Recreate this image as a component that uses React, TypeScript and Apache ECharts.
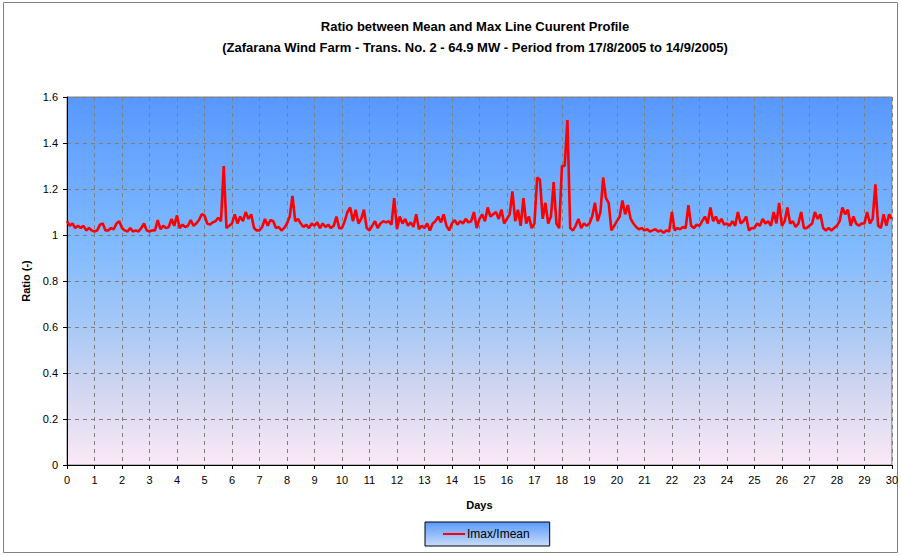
import React, { useEffect, useRef } from "react";
import * as echarts from "echarts";

// Imax/Imean ratio, sampled every 0.1 day (day 0.0 .. 30.0)
const STEP_DAYS = 0.1;
const ratioDays0to9: number[] = [
  1.06, 1.04, 1.05, 1.03, 1.04, 1.03, 1.04, 1.02, 1.03, 1.02,
  1.015, 1.02, 1.045, 1.05, 1.02, 1.02, 1.03, 1.025, 1.05, 1.06,
  1.03, 1.02, 1.015, 1.03, 1.015, 1.02, 1.015, 1.03, 1.05, 1.02,
  1.015, 1.02, 1.02, 1.065, 1.025, 1.04, 1.03, 1.035, 1.07, 1.04,
  1.085, 1.03, 1.045, 1.035, 1.04, 1.065, 1.04, 1.05, 1.065, 1.09,
  1.085, 1.05, 1.045, 1.055, 1.06, 1.075, 1.06, 1.3, 1.03, 1.04,
  1.05, 1.09, 1.05, 1.08, 1.06, 1.1, 1.07, 1.09, 1.03, 1.02,
  1.02, 1.035, 1.07, 1.04, 1.065, 1.06, 1.03, 1.035, 1.02, 1.03,
  1.05, 1.08, 1.17, 1.06, 1.07, 1.05, 1.035, 1.045, 1.03, 1.05,
  1.04, 1.055, 1.03, 1.05, 1.035, 1.045, 1.03, 1.04, 1.08, 1.03,
];
const ratioDays10to19: number[] = [
  1.03, 1.06, 1.1, 1.12, 1.06, 1.11, 1.05, 1.07, 1.11, 1.03,
  1.02, 1.04, 1.06, 1.03, 1.05, 1.06, 1.055, 1.06, 1.045, 1.16,
  1.025, 1.08, 1.05, 1.07, 1.04, 1.055, 1.035, 1.09, 1.025, 1.04,
  1.03, 1.05, 1.02, 1.05, 1.06, 1.08, 1.055, 1.09, 1.04, 1.02,
  1.05, 1.065, 1.045, 1.06, 1.05, 1.07, 1.055, 1.06, 1.1, 1.03,
  1.07, 1.09, 1.06, 1.12, 1.08, 1.09, 1.1, 1.07, 1.11, 1.05,
  1.07, 1.09, 1.19, 1.06, 1.11, 1.04, 1.16, 1.05, 1.08, 1.03,
  1.05, 1.25, 1.24, 1.07, 1.14, 1.05, 1.08, 1.23, 1.05, 1.03,
  1.3, 1.3, 1.5, 1.03, 1.02, 1.04, 1.07, 1.03, 1.05, 1.04,
  1.05, 1.08, 1.14, 1.06, 1.1, 1.25, 1.16, 1.14, 1.02, 1.04,
];
const ratioDays20to30: number[] = [
  1.06, 1.08, 1.15, 1.09, 1.13, 1.07, 1.05, 1.035, 1.025, 1.03,
  1.02, 1.025, 1.015, 1.02, 1.025, 1.015, 1.02, 1.01, 1.02, 1.015,
  1.1, 1.02, 1.03, 1.025, 1.035, 1.03, 1.13, 1.04, 1.03, 1.045,
  1.04, 1.06, 1.08, 1.05, 1.12, 1.06, 1.08, 1.05, 1.07, 1.045,
  1.05, 1.04, 1.06, 1.04, 1.1, 1.05, 1.06, 1.08, 1.02, 1.03,
  1.03, 1.05, 1.04, 1.07, 1.05, 1.06, 1.04, 1.1, 1.05, 1.14,
  1.04, 1.06, 1.12, 1.05, 1.06, 1.035, 1.05, 1.1, 1.03, 1.03,
  1.04, 1.05, 1.1, 1.07, 1.09, 1.03, 1.02, 1.03, 1.02, 1.03,
  1.04, 1.06, 1.12, 1.09, 1.11, 1.04, 1.08, 1.05, 1.04, 1.05,
  1.05, 1.1, 1.05, 1.07, 1.22, 1.04, 1.03, 1.09, 1.04, 1.09,
  1.07,
];

const titleLine1 = "Ratio between Mean and Max Line Cuurent Profile";
const titleLine2 =
  "(Zafarana Wind Farm - Trans. No. 2 - 64.9 MW - Period from 17/8/2005 to 14/9/2005)";
const seriesName = "Imax/Imean";
const xAxisName = "Days";
const yAxisName = "Ratio (-)";

const FONT = "'Liberation Sans', Arial, sans-serif";

export default function App() {
  const ref = useRef<HTMLDivElement>(null);

  useEffect(() => {
    if (!ref.current) return;
    const chart = echarts.init(ref.current, undefined, { renderer: "svg" });
    const ratio = [...ratioDays0to9, ...ratioDays10to19, ...ratioDays20to30];
    const data = ratio.map((v, i) => [Math.round(i * STEP_DAYS * 10) / 10, v]);

    chart.setOption({
      animation: false,
      backgroundColor: "#ffffff",
      textStyle: { fontFamily: FONT },
      title: {
        text: titleLine1 + "\n" + titleLine2,
        left: 470,
        textAlign: "center",
        top: 11,
        textStyle: {
          fontFamily: FONT,
          fontSize: 13,
          fontWeight: "bold",
          color: "#000",
          lineHeight: 21,
        },
      },
      legend: {
        data: [seriesName],
        left: 425,
        top: 522,
        padding: [6, 20, 6, 18],
        backgroundColor: new echarts.graphic.LinearGradient(0, 0, 0, 1, [
          { offset: 0, color: "#5a9afe" },
          { offset: 1, color: "#c8dcf8" },
        ]),
        borderColor: "#000",
        borderWidth: 1,
        icon: "rect",
        itemWidth: 22,
        itemHeight: 2,
        itemGap: 4,
        textStyle: { fontFamily: FONT, fontSize: 12, color: "#000", padding: [0, 0, 0, -3] },
      },
      graphic: [
        {
          type: "rect",
          shape: { x: 3.5, y: 2.5, width: 894, height: 550 },
          style: { fill: "none", stroke: "#808080", lineWidth: 1 },
          silent: true,
        },
      ],
      grid: {
        left: 67,
        right: 8,
        top: 97,
        bottom: 91,
        show: true,
        borderColor: "#808080",
        borderWidth: 1,
        backgroundColor: new echarts.graphic.LinearGradient(0, 0, 0, 1, [
          { offset: 0, color: "#5898fe" },
          { offset: 0.4, color: "#80baff" },
          { offset: 0.62, color: "#a6c8f6" },
          { offset: 0.8, color: "#d2d6f0" },
          { offset: 1, color: "#fbe9f7" },
        ]),
      },
      xAxis: {
        type: "value",
        min: 0,
        max: 30,
        interval: 1,
        name: xAxisName,
        nameLocation: "middle",
        nameGap: 34,
        nameTextStyle: { fontFamily: FONT, fontSize: 11, fontWeight: "bold", color: "#000" },
        axisLine: { show: true, lineStyle: { color: "#000", width: 1 } },
        axisTick: { show: true, length: 4, lineStyle: { color: "#000" } },
        axisLabel: { fontFamily: FONT, fontSize: 11, color: "#000", margin: 9 },
        splitLine: { show: true, lineStyle: { color: "#7f7f7f", type: [4, 4], width: 1 } },
      },
      yAxis: {
        type: "value",
        min: 0,
        max: 1.6,
        interval: 0.2,
        name: yAxisName,
        nameLocation: "middle",
        nameGap: 33,
        nameRotate: 90,
        nameTextStyle: { fontFamily: FONT, fontSize: 11, fontWeight: "bold", color: "#000" },
        axisLine: { show: true, lineStyle: { color: "#000", width: 1 } },
        axisTick: { show: true, length: 4, lineStyle: { color: "#000" } },
        axisLabel: {
          fontFamily: FONT,
          fontSize: 11,
          color: "#000",
          margin: 9,
          formatter: (v: number) => String(Math.round(v * 10) / 10),
        },
        splitLine: { show: true, lineStyle: { color: "#7f7f7f", type: [4, 4], width: 1 } },
      },
      series: [
        {
          name: seriesName,
          type: "line",
          data,
          showSymbol: false,
          symbol: "none",
          lineStyle: { color: "#ff0000", width: 2.6 },
          itemStyle: { color: "#ff0000" },
        },
      ],
    });

    return () => chart.dispose();
  }, []);

  return (
    <div
      ref={ref}
      style={{ position: "fixed", left: 0, top: 0, width: 901, height: 556 }}
    />
  );
}
